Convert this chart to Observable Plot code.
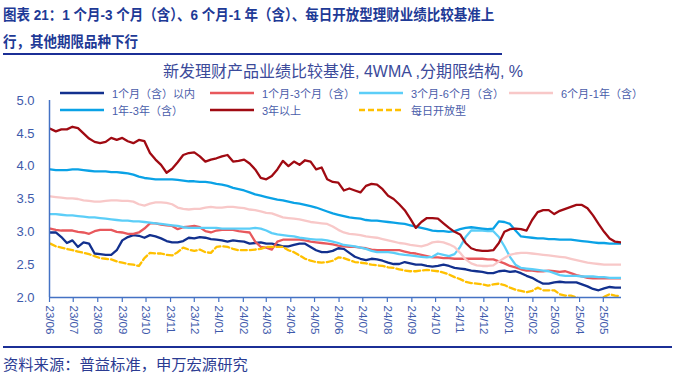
<!DOCTYPE html>
<html><head><meta charset="utf-8">
<script src="https://cdn.jsdelivr.net/npm/d3@7"></script>
<script src="https://cdn.jsdelivr.net/npm/@observablehq/plot@0.6"></script>
<style>
body{margin:0;background:#fff;}
#wrap{position:relative;width:700px;height:378px;overflow:hidden;font-family:"Liberation Sans","Noto Sans CJK SC",sans-serif;}
.t{position:absolute;left:3px;font-weight:bold;font-size:15px;line-height:17px;color:#1E3A96;white-space:nowrap;transform:scaleX(0.9);transform-origin:0 0;}
.rule{position:absolute;left:3px;background:#1B2F96;}
#ctitle{position:absolute;left:0;width:686px;top:63px;text-align:center;font-size:16px;line-height:18px;color:#3B4A9A;white-space:nowrap;}
.lg{position:absolute;display:flex;align-items:center;font-size:11px;color:#4A5DAA;white-space:nowrap;height:16px;}
.lg svg{margin-right:8px;}
#src{position:absolute;left:3px;top:356px;font-size:15.3px;line-height:17px;color:#2B3B92;white-space:nowrap;}
#chart{position:absolute;left:0;top:56px;}
</style>
</head><body>
<div id="wrap">
  <div class="t" style="top:6px">图表 21：1 个月-3 个月（含）、6 个月-1 年（含）、每日开放型理财业绩比较基准上</div>
  <div class="t" style="top:33px">行，其他期限品种下行</div>
  <div class="rule" style="top:53px;height:2px;width:499px"></div>
  <div id="chart"></div>
  <div id="ctitle">新发理财产品业绩比较基准, 4WMA ,分期限结构, %</div>
  <div id="legend"></div>
  <div class="rule" style="top:346px;height:2px;width:669px"></div>
  <div id="src">资料来源：普益标准，申万宏源研究</div>
</div>
<script>
// weekly observations (Fridays), 2023-06-02 .. 2025-05-23
const startDate = new Date(Date.UTC(2023, 5, 2));
const endDate = new Date(Date.UTC(2025, 4, 24));
const xTickLabels = ["23/06","23/07","23/08","23/09","23/10","23/11","23/12","24/01","24/02","24/03","24/04","24/05","24/06","24/07","24/08","24/09","24/10","24/11","24/12","25/01","25/02","25/03","25/04","25/05"];
const yTickValues = [2.0, 2.5, 3.0, 3.5, 4.0, 4.5, 5.0];

const seriesNames = ["1个月（含）以内","1个月-3个月（含）","3个月-6个月（含）","6个月-1年（含）","1年-3年（含）","3年以上","每日开放型"];

const m1 = [2.99,2.99,2.92,2.83,2.87,2.77,2.84,2.82,2.67,2.66,2.65,2.65,2.72,2.87,2.92,2.95,2.94,2.91,2.95,2.93,2.90,2.86,2.84,2.84,2.86,2.91,2.90,2.92,2.91,2.89,2.88,2.87,2.85,2.87,2.86,2.85,2.82,2.83,2.84,2.82,2.82,2.80,2.78,2.78,2.80,2.82,2.82,2.77,2.72,2.69,2.69,2.71,2.75,2.74,2.68,2.62,2.59,2.57,2.59,2.58,2.56,2.53,2.51,2.51,2.54,2.52,2.50,2.50,2.48,2.47,2.48,2.50,2.48,2.45,2.44,2.43,2.41,2.40,2.39,2.37,2.37,2.40,2.41,2.39,2.40,2.37,2.33,2.30,2.25,2.21,2.21,2.23,2.24,2.23,2.23,2.23,2.20,2.17,2.13,2.11,2.14,2.16,2.15,2.15];
const m1to3 = [3.05,3.03,3.02,3.02,3.02,3.00,2.99,2.97,3.01,3.03,3.03,3.03,3.00,2.99,2.97,2.97,2.99,3.05,3.13,3.13,3.11,3.10,3.09,3.04,3.07,3.08,3.09,3.07,3.01,2.99,3.02,3.03,3.03,3.03,3.01,3.00,2.99,2.85,2.77,2.76,2.73,2.85,2.88,2.88,2.88,2.88,2.87,2.85,2.84,2.83,2.82,2.81,2.79,2.78,2.77,2.77,2.76,2.75,2.73,2.72,2.72,2.72,2.72,2.72,2.70,2.68,2.67,2.65,2.63,2.61,2.61,2.60,2.60,2.59,2.59,2.59,2.59,2.59,2.59,2.58,2.58,2.55,2.52,2.48,2.46,2.43,2.41,2.41,2.40,2.40,2.41,2.40,2.39,2.40,2.37,2.34,2.32,2.30,2.29,2.29,2.29,2.29,2.29,2.29];
const m3to6 = [3.27,3.27,3.26,3.25,3.25,3.24,3.23,3.22,3.22,3.21,3.20,3.19,3.18,3.17,3.17,3.16,3.16,3.15,3.14,3.13,3.12,3.11,3.10,3.09,3.07,3.06,3.06,3.06,3.06,3.06,3.06,3.05,3.05,3.05,3.05,3.05,3.05,3.06,3.05,3.02,2.98,2.96,2.95,2.94,2.93,2.91,2.90,2.89,2.88,2.88,2.87,2.85,2.83,2.80,2.79,2.78,2.76,2.74,2.71,2.69,2.69,2.69,2.68,2.66,2.65,2.64,2.63,2.62,2.61,2.62,2.67,2.65,2.63,2.66,2.77,2.92,3.02,3.02,3.02,3.01,3.01,2.92,2.78,2.62,2.50,2.45,2.44,2.43,2.42,2.41,2.40,2.37,2.34,2.33,2.33,2.33,2.32,2.32,2.32,2.31,2.31,2.30,2.30,2.30];
const m6to12 = [3.54,3.53,3.52,3.51,3.51,3.50,3.48,3.47,3.46,3.46,3.47,3.48,3.48,3.47,3.47,3.46,3.42,3.40,3.43,3.45,3.45,3.44,3.42,3.37,3.35,3.34,3.35,3.35,3.37,3.38,3.37,3.37,3.38,3.38,3.37,3.36,3.34,3.33,3.31,3.29,3.28,3.25,3.22,3.21,3.20,3.19,3.17,3.15,3.14,3.13,3.12,3.08,3.03,2.99,2.97,2.96,2.95,2.93,2.92,2.91,2.89,2.87,2.85,2.83,2.82,2.80,2.79,2.78,2.80,2.84,2.85,2.84,2.81,2.77,2.68,2.58,2.52,2.49,2.48,2.48,2.49,2.55,2.60,2.65,2.67,2.68,2.68,2.67,2.66,2.65,2.64,2.63,2.62,2.61,2.59,2.57,2.55,2.53,2.52,2.51,2.50,2.50,2.50,2.50];
const y1to3 = [3.95,3.94,3.94,3.94,3.95,3.95,3.94,3.93,3.92,3.92,3.92,3.91,3.91,3.90,3.89,3.87,3.84,3.82,3.81,3.80,3.80,3.80,3.80,3.79,3.78,3.77,3.77,3.76,3.76,3.75,3.73,3.72,3.70,3.67,3.65,3.63,3.60,3.57,3.55,3.53,3.51,3.49,3.48,3.46,3.44,3.43,3.41,3.39,3.37,3.34,3.31,3.28,3.26,3.24,3.22,3.21,3.20,3.18,3.17,3.17,3.16,3.15,3.14,3.13,3.12,3.10,3.08,3.06,3.04,3.02,3.01,3.01,3.00,3.01,3.04,3.06,3.07,3.06,3.05,3.04,3.05,3.16,3.15,3.12,3.02,2.93,2.92,2.91,2.90,2.90,2.89,2.89,2.88,2.88,2.88,2.87,2.86,2.85,2.84,2.83,2.83,2.82,2.82,2.82];
const y3plus = [4.57,4.53,4.56,4.56,4.60,4.58,4.50,4.42,4.37,4.35,4.37,4.43,4.40,4.43,4.38,4.35,4.40,4.38,4.20,4.10,4.02,3.90,3.96,4.06,4.17,4.20,4.21,4.15,4.07,4.10,4.12,4.15,4.17,4.07,4.08,4.10,4.04,3.95,3.82,3.80,3.85,3.95,4.08,4.00,4.07,4.02,4.09,4.07,3.95,3.98,3.80,3.76,3.75,3.63,3.66,3.63,3.60,3.70,3.73,3.72,3.65,3.55,3.50,3.42,3.33,3.20,3.06,3.15,3.21,3.21,3.20,3.13,3.06,3.00,2.96,2.83,2.75,2.72,2.71,2.71,2.72,2.83,3.00,3.04,3.05,3.04,3.02,3.18,3.30,3.33,3.33,3.27,3.32,3.35,3.38,3.41,3.41,3.36,3.25,3.12,3.00,2.90,2.85,2.84];
const daily = [2.82,2.78,2.76,2.74,2.72,2.70,2.68,2.66,2.63,2.60,2.59,2.58,2.55,2.53,2.51,2.50,2.48,2.60,2.68,2.67,2.67,2.65,2.64,2.69,2.76,2.73,2.71,2.73,2.69,2.68,2.77,2.78,2.77,2.74,2.72,2.72,2.72,2.73,2.74,2.77,2.77,2.77,2.77,2.72,2.69,2.64,2.59,2.56,2.54,2.53,2.54,2.56,2.61,2.60,2.57,2.54,2.53,2.52,2.50,2.49,2.48,2.46,2.45,2.43,2.41,2.40,2.40,2.41,2.42,2.41,2.40,2.38,2.35,2.31,2.28,2.24,2.22,2.21,2.20,2.18,2.20,2.21,2.19,2.15,2.12,2.10,2.08,2.10,2.15,2.11,2.11,2.11,2.05,2.03,2.03,2.00,1.97,1.95,1.96,1.98,2.01,2.05,2.03,2.02];

const seriesValues = [m1, m1to3, m3to6, m6to12, y1to3, y3plus, daily];
const seriesColors = ["#12308E","#E8585C","#5CCEF8","#F8C8C8","#0AA2E6","#A00A12","#FFC000"];
const seriesDash = [null,null,null,null,null,null,"6,3"];

const dates = d3.utcFriday.range(startDate, endDate);
const parseTick = d3.utcParse("%y/%m");
const xTicks = xTickLabels.map(parseTick);
const axisColor = "#4472C4";
const labelColor = "#3E5AAB";

const lineMarks = seriesNames.map((name, k) => Plot.line(
  seriesValues[k].map((v, i) => ({date: dates[i], value: v, name})),
  {x: "date", y: "value", stroke: seriesColors[k], strokeWidth: 2.3,
   strokeDasharray: seriesDash[k] || undefined, clip: true, curve: "linear"}
));

const chart = Plot.plot({
  width: 700, height: 290,
  marginTop: 44, marginBottom: 49, marginLeft: 49, marginRight: 79,
  style: {background: "transparent", fontFamily: '"Liberation Sans", "Noto Sans CJK SC", sans-serif'},
  x: {type: "utc", domain: [new Date(Date.UTC(2023,5,1)), new Date(Date.UTC(2025,4,24))]},
  y: {domain: [2, 5]},
  marks: [
    Plot.axisY({ticks: yTickValues, tickFormat: d => d.toFixed(1), tickSize: 0, tickPadding: 15,
      fontSize: 13, fill: labelColor, label: null}),
    Plot.axisX({ticks: xTicks, tickFormat: d3.utcFormat("%y/%m"), tickRotate: 90, tickSize: 5, tickPadding: 3,
      fontSize: 11.5, fill: labelColor, stroke: axisColor, strokeWidth: 1.2, label: null}),
    ...lineMarks,
    Plot.ruleY([2], {stroke: axisColor, strokeWidth: 1.5}),
    Plot.ruleX([new Date(Date.UTC(2023,5,1))], {stroke: axisColor, strokeWidth: 1.5})
  ]
});
document.getElementById("chart").appendChild(chart);

// legend
const legendPos = [[60,85],[210,85],[359,85],[509,85],[60,102],[210,102],[359,102]];
const legend = document.getElementById("legend");
seriesNames.forEach((name, k) => {
  const d = document.createElement("div");
  d.className = "lg";
  d.style.left = legendPos[k][0] + "px";
  d.style.top = legendPos[k][1] + "px";
  const dash = seriesDash[k] ? ` stroke-dasharray="${seriesDash[k]}"` : "";
  d.innerHTML = `<svg width="44" height="16"><line x1="0" y1="8" x2="44" y2="8" stroke="${seriesColors[k]}" stroke-width="2.5"${dash}/></svg><span>${name}</span>`;
  legend.appendChild(d);
});
</script>
</body></html>
